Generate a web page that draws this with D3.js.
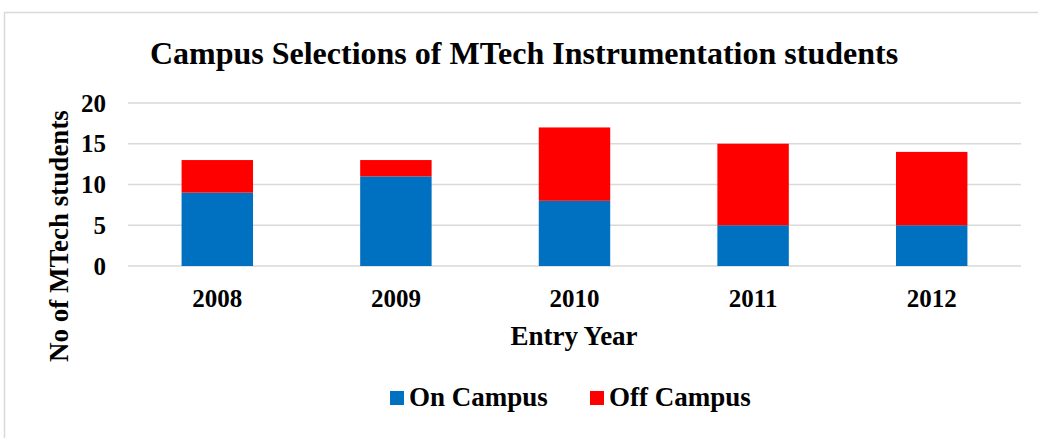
<!DOCTYPE html>
<html>
<head>
<meta charset="utf-8">
<script src="https://cdn.jsdelivr.net/npm/d3@7"></script>
<style>
  body { margin: 0; background: #fff; }
  text { font-family: "Liberation Serif", "Times New Roman", serif; font-weight: bold; fill: #000; }
</style>
</head>
<body>
<svg id="chart" width="1038" height="438"></svg>
<script>
"use strict";

const years = ["2008", "2009", "2010", "2011", "2012"];
const onCampus = [9, 11, 8, 5, 5];
const offCampus = [4, 2, 9, 10, 9];
const yTicks = [0, 5, 10, 15, 20];
const seriesNames = ["On Campus", "Off Campus"];
const colors = ["#0070C0", "#FF0000"];

const svg = d3.select("#chart");

// chart border
svg.append("rect")
  .attr("x", 4.5).attr("y", 12.5)
  .attr("width", 1060).attr("height", 460)
  .attr("fill", "none")
  .attr("stroke", "#d9d9d9")
  .attr("stroke-width", 1.5);

const plot = { left: 128, right: 1021, top: 103, bottom: 266 };

const x = d3.scaleBand()
  .domain(years)
  .range([plot.left, plot.right])
  .paddingInner(0.6)
  .paddingOuter(0.3);

const y = d3.scaleLinear()
  .domain([0, 20])
  .range([plot.bottom, plot.top]);

// gridlines
svg.append("g")
  .selectAll("line")
  .data(yTicks)
  .enter()
  .append("line")
  .attr("x1", plot.left).attr("x2", plot.right)
  .attr("y1", d => y(d)).attr("y2", d => y(d))
  .attr("stroke", "#d9d9d9")
  .attr("stroke-width", 1.5);

// y axis labels
const yAxis = svg.append("g")
  .attr("transform", `translate(${plot.left}, 0)`)
  .call(d3.axisLeft(y).tickValues(yTicks).tickSize(0).tickPadding(22));
yAxis.select(".domain").remove();
yAxis.selectAll("text")
  .style("font-size", "25px")
  .style("font-family", "Liberation Serif")
  .style("font-weight", "bold")
  .attr("fill", "#000");

// x axis labels
const xAxis = svg.append("g")
  .attr("transform", `translate(0, ${plot.bottom})`)
  .call(d3.axisBottom(x).tickSize(0).tickPadding(23));
xAxis.select(".domain").remove();
xAxis.selectAll("text")
  .style("font-size", "25px")
  .style("font-family", "Liberation Serif")
  .style("font-weight", "bold")
  .attr("fill", "#000");

// stacked bars
const rows = years.map((yr, i) => ({ year: yr, on: onCampus[i], off: offCampus[i] }));
const stack = d3.stack().keys(["on", "off"])(rows);

svg.append("g")
  .selectAll("g")
  .data(stack)
  .enter()
  .append("g")
  .attr("fill", (d, i) => colors[i])
  .selectAll("rect")
  .data(d => d)
  .enter()
  .append("rect")
  .attr("x", d => x(d.data.year))
  .attr("width", x.bandwidth())
  .attr("y", d => y(d[1]))
  .attr("height", d => y(d[0]) - y(d[1]));

// title
svg.append("text")
  .attr("x", 524).attr("y", 64)
  .attr("text-anchor", "middle")
  .style("font-size", "32px")
  .text("Campus Selections of MTech Instrumentation students");

// axis titles
svg.append("text")
  .attr("x", 574).attr("y", 345)
  .attr("text-anchor", "middle")
  .style("font-size", "27px")
  .text("Entry Year");

svg.append("text")
  .attr("transform", "translate(68, 236) rotate(-90)")
  .attr("text-anchor", "middle")
  .style("font-size", "27px")
  .text("No of MTech students");

// legend
const legend = svg.append("g");
const legendX = [390, 590];
seriesNames.forEach((name, i) => {
  legend.append("rect")
    .attr("x", legendX[i]).attr("y", 391)
    .attr("width", 14).attr("height", 14)
    .attr("fill", colors[i]);
  legend.append("text")
    .attr("x", legendX[i] + 19).attr("y", 406)
    .style("font-size", "27px")
    .text(name);
});
</script>
</body>
</html>
